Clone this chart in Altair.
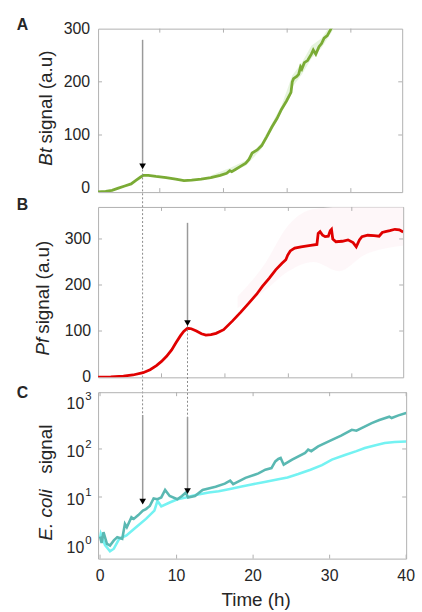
import altair as alt
import pandas as pd

# ---------------- data ----------------
# Panel A (Bt signal)
a_t = [0.3, 1.5, 2.5, 3.5, 4.5, 5.5, 6.3, 7.0, 7.4, 8.2, 9.4, 11.0, 12.5, 13.8, 15.0, 16.5, 18.0,
       19.5, 20.5, 21.0, 21.3, 22.0, 22.8, 23.5, 24.0, 24.5, 25.3, 26.0, 26.8, 27.6, 28.4, 29.1,
       29.9, 30.6, 30.8, 31.0, 31.5, 31.8, 32.1, 32.3, 32.7, 33.2, 33.8, 34.1, 34.5, 35.0, 35.4,
       35.8, 36.3, 36.9, 37.6]
a_v = [-7, -6, -4, 0, 4, 8, 15, 21, 24, 24, 22, 20, 17, 14, 15, 17, 20,
       24, 28, 33, 31, 36, 42, 47, 54, 66, 72, 80, 97, 115, 131, 148,
       164, 180, 200, 206, 210, 214, 228, 224, 236, 240, 252, 260, 252, 266, 272,
       282, 287, 300, 314]
a_band_t = [18.0, 21.0, 23.5, 26.0, 29.1, 30.8, 32.3, 33.8, 35.4, 36.9, 37.6]
a_band_lo = [17, 29, 42, 74, 142, 190, 214, 244, 264, 292, 306]
a_band_hi = [24, 38, 52, 86, 155, 212, 236, 268, 282, 308, 322]

# Panel B (Pf signal)
b_t = [0, 2, 4, 5.5, 7.1, 8.2, 9.2, 10.0, 10.8, 11.6, 12.3, 13.0, 13.5, 14.1, 14.7, 15.5, 16.3,
       17.0, 17.8, 18.6, 19.8, 21.2, 22.5, 23.8, 25.0, 25.9, 27.0, 28.0, 29.0, 29.6, 29.9, 30.3,
       31.0, 32.0, 33.5, 34.5, 34.7, 35.0, 35.4, 35.8, 36.3, 36.6, 36.8, 37.0, 37.5, 38.5, 39.4,
       40.2, 40.7, 41.2, 41.6, 42.5, 43.5, 44.3, 44.8, 45.3, 46.0, 46.8, 47.5, 48.1]
b_v = [0, 0.5, 2, 4.5, 9.5, 16, 25, 34, 45, 59, 75, 90, 99, 106, 105, 100, 94,
       91, 92, 95, 103, 122, 141, 161, 180, 197, 215, 233, 247, 255, 265, 274,
       280, 283, 286, 288, 312, 316, 308, 305, 306, 318, 321, 300, 294, 295, 298,
       292, 283, 298, 305, 308, 307, 306, 314, 316, 318, 321, 320, 315]
b_band_t = [22, 26, 30, 34, 38, 42, 48.1]
b_band_lo = [150, 185, 230, 250, 230, 265, 285]
b_band_hi = [175, 240, 330, 365, 369, 369, 369]

# Panel C (E. coli signal, two series)
c_t1 = [0, 0.2, 0.45, 0.9, 1.3, 1.8, 2.25, 2.9, 3.25, 3.5, 4.1, 4.4, 5.0, 5.6, 6.0, 6.5, 7.0,
        7.5, 8.0, 8.5, 9.1, 10.1, 10.7, 11.2, 11.5, 12.4, 13.4, 15.1, 16.3, 17.0, 17.4, 19.0,
        20.3, 20.7, 21.6, 22.4, 22.9, 23.3, 23.6, 24.0, 25.1, 26.8, 27.2, 27.6, 28.5, 30.3,
        31.5, 32.9, 33.5, 35.5, 36.5, 37.8, 38.1, 39.0, 40.0]
c_v1 = [1.5, 1.1, 1.85, 1.06, 0.98, 1.25, 1.46, 1.35, 2.75, 2.35, 3.8, 3.5, 4.2, 5.2, 5.6, 6.5, 9.3,
        9.0, 9.8, 14, 10.5, 9.0, 10.5, 12.3, 9.8, 10.5, 14, 16.4, 19, 22, 18.5, 25,
        29.5, 31, 37, 40, 55, 62, 65, 47, 60, 83, 97, 90, 113, 155,
        190, 250, 240, 344, 400, 470, 440, 500, 560]
c_t2 = [0, 0.1, 0.65, 1.3, 1.8, 2.5, 3.45, 4.7, 6.0, 7.1, 7.5, 8.0, 9.1, 10.1, 11.2, 12.5, 14.2,
        15.5, 17.3, 18.5, 19.8, 21.5, 23.3, 24.5, 25.9, 27.5, 29.0, 30.3, 32.0, 33.5, 34.6, 36.0,
        37.2, 38.5, 40.0]
c_v2 = [1.4, 1.71, 1.0, 0.74, 0.84, 1.35, 1.58, 2.35, 3.5, 5.2, 8.3, 6.4, 7.7, 9.0, 9.8, 11.0, 12.4,
        13.2, 15, 16.5, 18.3, 20.5, 23.3, 25.5, 30, 37, 46, 60, 75, 90, 105, 120,
        133, 140, 143]

# arrows
arrow_a = {"t": 7.3, "top": 279, "tri": 41, "dot": 35}
arrow_b = {"t": 14.1, "top": 335, "tri": 117, "dot": 112}
arrow_c_t = [5.57, 11.43]
arrow_c_top = [510, 463]
arrow_c_tri = [8.0, 13.3]

x_ticks = [0, 10, 20, 30, 40]
ya_ticks = [0, 100, 200, 300]
yb_ticks = [0, 100, 200, 300]
yc_ticks = [1, 10, 100, 1000]
yc_exp = ["0", "1", "2", "3"]

# ---------------- style ----------------
FONT = "Liberation Sans"
INK = "#262626"
FRAME = "#b0b0b0"
GREEN = "#7aab35"
GREEN_BAND = "#dcefd0"
RED = "#e00000"
PINK = "#fef5f8"
TEAL = "#5ab8b2"
CYAN = "#74f2f2"
ARROW = "#9a9a9a"
DOT = "#8a8a8a"

WA, HA = 307, 165
WB, HB = 308, 172
WC, HC = 311, 168

one = pd.DataFrame({"a": [0]})


def txt(s, x, y, size, weight="normal", style="normal", angle=0, align="left",
        baseline="alphabetic"):
    kw = dict(text=s, font=FONT, fontSize=size, fontWeight=weight, fontStyle=style,
              align=align, baseline=baseline, color=INK)
    if angle:
        kw["angle"] = angle
    return alt.Chart(one).mark_text(**kw).encode(x=alt.value(x), y=alt.value(y))


def frame_ticks(xvals, yvals, xs, ys, w, h):
    dx = pd.DataFrame({"tv": xvals})
    dy = pd.DataFrame({"tv": yvals})
    X = alt.X("tv:Q", scale=xs, axis=None)
    Y = alt.Y("tv:Q", scale=ys, axis=None)
    r = dict(color=FRAME, strokeWidth=1)
    return [
        alt.Chart(dx).mark_rule(**r).encode(x=X, y=alt.value(h), y2=alt.value(h - 4)),
        alt.Chart(dx).mark_rule(**r).encode(x=X, y=alt.value(0), y2=alt.value(4)),
        alt.Chart(dy).mark_rule(**r).encode(y=Y, x=alt.value(0), x2=alt.value(4)),
        alt.Chart(dy).mark_rule(**r).encode(y=Y, x=alt.value(w), x2=alt.value(w - 4)),
    ]


def ylabels(vals, ys, pad):
    d = pd.DataFrame({"tv": vals, "s": [str(v) for v in vals]})
    return alt.Chart(d).mark_text(font=FONT, fontSize=16, align="right", baseline="middle",
                                  color=INK).encode(
        x=alt.value(-pad), y=alt.Y("tv:Q", scale=ys, axis=None), text="s:N")


# ---------------- panel A ----------------
xsA = alt.Scale(domain=[0.31, 48.06], nice=False, zero=False)
ysA = alt.Scale(domain=[-7.4, 300], nice=False, zero=False)
dfA = pd.DataFrame({"t": a_t, "v": a_v})
dfAb = pd.DataFrame({"t": a_band_t, "lo": a_band_lo, "hi": a_band_hi})
XA = alt.X("t:Q", scale=xsA, axis=None)

bandA = alt.Chart(dfAb).mark_area(color=GREEN_BAND, opacity=0.7, clip=True).encode(
    x=XA, y=alt.Y("lo:Q", scale=ysA, axis=None), y2="hi:Q")
lineA = alt.Chart(dfA).mark_line(color=GREEN, strokeWidth=2.8, clip=True).encode(
    x=XA, y=alt.Y("v:Q", scale=ysA, axis=None))
dfArrA = pd.DataFrame({"t": [arrow_a["t"]], "top": [arrow_a["top"]], "tri": [arrow_a["tri"]],
                       "dot": [arrow_a["dot"]]})
arrA = alt.Chart(dfArrA).mark_rule(color=ARROW, strokeWidth=1.5).encode(
    x=XA, y=alt.Y("top:Q", scale=ysA, axis=None), y2="tri:Q")
dotA = alt.Chart(dfArrA).mark_rule(color=DOT, strokeWidth=1, strokeDash=[2, 2]).encode(
    x=XA, y=alt.Y("dot:Q", scale=ysA, axis=None), y2=alt.value(390))
triA = alt.Chart(dfArrA).mark_point(shape="triangle-down", filled=True, color="black",
                                    size=45, opacity=1).encode(
    x=XA, y=alt.Y("tri:Q", scale=ysA, axis=None))

panelA = alt.layer(
    bandA, lineA, *frame_ticks([10, 20, 30, 40], [100, 200], xsA, ysA, WA, HA),
    dotA, arrA, triA, ylabels(ya_ticks, ysA, 8),
    txt("A", -82, 1, 16, weight="bold"),
    txt("Bt", -47, 138.3, 19, style="italic", angle=270),
    txt("signal (a.u)", -47, 116, 19, angle=270),
).properties(width=WA, height=HA)

# ---------------- panel B ----------------
xsB = alt.Scale(domain=[0, 48.1], nice=False, zero=False)
ysB = alt.Scale(domain=[-0.6, 369.5], nice=False, zero=False)
dfB = pd.DataFrame({"t": b_t, "v": b_v})
dfBb = pd.DataFrame({"t": b_band_t, "lo": b_band_lo, "hi": b_band_hi})
XB = alt.X("t:Q", scale=xsB, axis=None)

bandB = alt.Chart(dfBb).mark_area(color=PINK, opacity=0.8, clip=True, interpolate="monotone").encode(
    x=XB, y=alt.Y("lo:Q", scale=ysB, axis=None), y2="hi:Q")
lineB = alt.Chart(dfB).mark_line(color=RED, strokeWidth=2.8, clip=True).encode(
    x=XB, y=alt.Y("v:Q", scale=ysB, axis=None))
dfArrB = pd.DataFrame({"t": [arrow_b["t"]], "top": [arrow_b["top"]], "tri": [arrow_b["tri"]],
                       "dot": [arrow_b["dot"]]})
arrB = alt.Chart(dfArrB).mark_rule(color=ARROW, strokeWidth=1.5).encode(
    x=XB, y=alt.Y("top:Q", scale=ysB, axis=None), y2="tri:Q")
dotB = alt.Chart(dfArrB).mark_rule(color=DOT, strokeWidth=1, strokeDash=[2, 2]).encode(
    x=XB, y=alt.Y("dot:Q", scale=ysB, axis=None), y2=alt.value(212))
triB = alt.Chart(dfArrB).mark_point(shape="triangle-down", filled=True, color="black",
                                    size=45, opacity=1).encode(
    x=XB, y=alt.Y("tri:Q", scale=ysB, axis=None))

panelB = alt.layer(
    bandB, lineB, *frame_ticks([10, 20, 30, 40], [100, 200, 300], xsB, ysB, WB, HB),
    dotB, arrB, triB, ylabels(yb_ticks, ysB, 7),
    txt("B", -82, 3.3, 16, weight="bold"),
    txt("Pf", -50, 150, 19, style="italic", angle=270),
    txt("signal (a.u)", -50, 128, 19, angle=270),
).properties(width=WB, height=HB)

# ---------------- panel C ----------------
xsC = alt.Scale(domain=[-0.26, 40], nice=False, zero=False)
ysC = alt.Scale(type="log", domain=[0.522, 1518], nice=False)
dfC1 = pd.DataFrame({"t": c_t1, "v": c_v1})
dfC2 = pd.DataFrame({"t": c_t2, "v": c_v2})
XC = alt.X("t:Q", scale=xsC, axis=None)

lineC2 = alt.Chart(dfC2).mark_line(color=CYAN, strokeWidth=2.6, clip=True).encode(
    x=XC, y=alt.Y("v:Q", scale=ysC, axis=None))
lineC1 = alt.Chart(dfC1).mark_line(color=TEAL, strokeWidth=2.6, clip=True).encode(
    x=XC, y=alt.Y("v:Q", scale=ysC, axis=None))
dfArrC = pd.DataFrame({"t": arrow_c_t, "top": arrow_c_top, "tri": arrow_c_tri})
arrC = alt.Chart(dfArrC).mark_rule(color=ARROW, strokeWidth=1.5).encode(
    x=XC, y=alt.Y("top:Q", scale=ysC, axis=None), y2="tri:Q")
triC = alt.Chart(dfArrC).mark_point(shape="triangle-down", filled=True, color="black",
                                    size=45, opacity=1).encode(
    x=XC, y=alt.Y("tri:Q", scale=ysC, axis=None))
dfYC = pd.DataFrame({"v": yc_ticks, "e": yc_exp})
labC10 = alt.Chart(dfYC).mark_text(text="10", font=FONT, fontSize=16, align="right",
                                   baseline="middle", dy=3, color=INK).encode(
    x=alt.value(-14), y=alt.Y("v:Q", scale=ysC, axis=None))
labCexp = alt.Chart(dfYC).mark_text(font=FONT, fontSize=11.5, align="left",
                                    baseline="middle", dy=-4, color=INK).encode(
    x=alt.value(-13), y=alt.Y("v:Q", scale=ysC, axis=None), text="e:N")
dfXC = pd.DataFrame({"tv": x_ticks, "s": [str(v) for v in x_ticks]})
labCx = alt.Chart(dfXC).mark_text(font=FONT, fontSize=16, align="center", baseline="top",
                                  color=INK).encode(
    x=alt.X("tv:Q", scale=xsC, axis=None), y=alt.value(HC + 10), text="s:N")

panelC = alt.layer(
    lineC2, lineC1, *frame_ticks(x_ticks, [10, 100], xsC, ysC, WC, HC),
    arrC, triC, labC10, labCexp, labCx,
    txt("Time (h)", 159.5, HC + 33, 19, align="center", baseline="top"),
    txt("C", -82, 6.3, 16, weight="bold"),
    txt("E. coli", -47, 149.7, 19, style="italic", angle=270),
    txt("signal", -47, 82.3, 19, angle=270),
).properties(width=WC, height=HC)

chart = alt.vconcat(panelA, panelB, panelC, spacing=15, bounds="flush").configure(
    padding={"left": 16, "top": 13, "right": 6, "bottom": 2},
    background="white",
).configure_view(stroke=FRAME, strokeWidth=1)

chart.save("out.html", embed_options={"renderer": "svg", "actions": False})
